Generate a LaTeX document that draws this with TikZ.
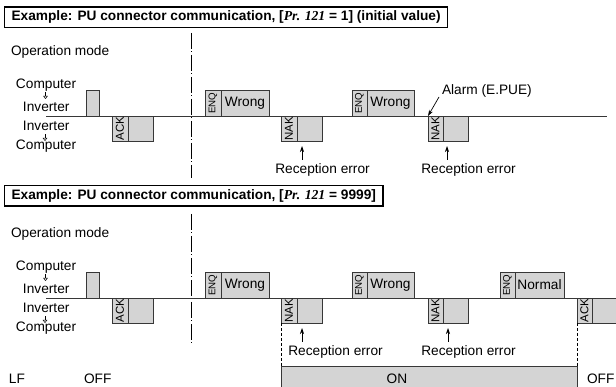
\documentclass[tikz,border=0pt]{standalone}
\usepackage{fontspec}
\setmainfont{Liberation Sans}
\newfontfamily\prfont{Liberation Serif}
\usetikzlibrary{arrows.meta}
\definecolor{blkfill}{RGB}{212,212,212}
\definecolor{edgecol}{RGB}{55,55,55}
\tikzset{
  lbl/.style={font=\fontsize{13.7}{16}\selectfont, inner sep=0pt, outer sep=0pt},
  cell/.style={draw=edgecol, fill=blkfill, line width=0.8pt, anchor=north west, inner sep=0pt, outer sep=0pt, font=\fontsize{13.7}{16}\selectfont},
  tagtxt/.style={font=\fontsize{11.5}{12}\selectfont, rotate=90, inner sep=0pt},
  enqtxt/.style={font=\fontsize{9.7}{11}\selectfont, rotate=90, inner sep=0pt},
  titlebox/.style={draw=black, line width=1.1pt, anchor=north west, inner xsep=7pt, inner ysep=0pt, minimum height=20.5pt, font=\fontsize{13.7}{16}\selectfont\bfseries},
  baseln/.style={draw=edgecol, line width=0.8pt},
  dashdot/.style={draw=black, line width=0.8pt, dash pattern=on 16pt off 2.5pt on 1pt off 2.5pt},
  vdash/.style={draw=black, line width=0.7pt, dash pattern=on 3pt off 2pt},
  uparrow/.style={draw=black, line width=0.7pt, -{Stealth[length=6pt,width=4pt]}},
  hollow/.style={draw=black, line width=0.5pt, -{Triangle[open,length=3pt,width=4.5pt]}},
}
\begin{document}
\begin{tikzpicture}[x=1pt,y=-1pt]
\clip (0,0) rectangle (616,387);
\useasboundingbox (0,0) rectangle (616,387);
\fill[white] (0,0) rectangle (616,387);

% ================= TOP SECTION =================
\node[titlebox] (title1) at (4,6.5) {Example: PU connector communication, [{\prfont\bfseries\itshape Pr. 121} = 1] (initial value)};

\node[lbl, anchor=west] (om1) at (11,52) {Operation mode};
\node[lbl, anchor=west] (cA1) at (16,85.5) {Computer};
\node[lbl, anchor=west] (iA1) at (23,107) {Inverter};
\node[lbl, anchor=west] (iB1) at (23,125.5) {Inverter};
\node[lbl, anchor=west] (cB1) at (16,146.5) {Computer};
\coordinate (ha1) at (45.5,92.5); \coordinate (hb1) at (45.5,99);
\draw[hollow] (ha1) -- (hb1);
\coordinate (ha2) at (45,134.5); \coordinate (hb2) at (45,141);
\draw[hollow] (ha2) -- (hb2);

\coordinate (ddA1) at (191,33); \coordinate (ddB1) at (191,178);
\draw[dashdot] (ddA1) -- (ddB1);

\coordinate (bl1s) at (46,116); \coordinate (bl1e) at (607,116);
\draw[baseln] (bl1s) -- (bl1e);

\node[cell, minimum width=13pt, minimum height=26pt] (c1) at (86,90) {};
\node[cell, minimum width=16pt, minimum height=25pt] (ack1t) at (112,116) {};
\node[cell, minimum width=25pt, minimum height=25pt] (ack1b) at (ack1t.north east) {};
\node[tagtxt] (ack1l) at (ack1t.center) {ACK};

\node[cell, minimum width=16pt, minimum height=26pt] (enq1t) at (205,90) {};
\node[cell, minimum width=48pt, minimum height=26pt] (enq1b) at (enq1t.north east) {Wrong};
\node[enqtxt] (enq1l) at (enq1t.center) {ENQ};

\node[cell, minimum width=16pt, minimum height=25pt] (nak1t) at (281,116) {};
\node[cell, minimum width=25pt, minimum height=25pt] (nak1b) at (nak1t.north east) {};
\node[tagtxt] (nak1l) at (nak1t.center) {NAK};

\node[cell, minimum width=15pt, minimum height=26pt] (enq2t) at (352,90) {};
\node[cell, minimum width=47pt, minimum height=26pt] (enq2b) at (enq2t.north east) {Wrong};
\node[enqtxt] (enq2l) at (enq2t.center) {ENQ};

\node[cell, minimum width=15pt, minimum height=25pt] (nak2t) at (428,116) {};
\node[cell, minimum width=25pt, minimum height=25pt] (nak2b) at (nak2t.north east) {};
\node[tagtxt] (nak2l) at (nak2t.center) {NAK};

\node[lbl, anchor=west] (alarm) at (442,90.5) {Alarm (E.PUE)};
\coordinate (alarmS) at (439,97);
\draw[uparrow] (alarmS) -- (nak2t.north west);

\node[lbl] (re1) at (322.5,170) {Reception error};
\coordinate (re1a) at (302,160); \coordinate (re1b) at (302,146);
\draw[uparrow] (re1a) -- (re1b);
\node[lbl] (re2) at (468.5,170) {Reception error};
\coordinate (re2a) at (447,160); \coordinate (re2b) at (447,146);
\draw[uparrow] (re2a) -- (re2b);

% ================= BOTTOM SECTION =================
\node[titlebox] (title2) at (4,185) {Example: PU connector communication, [{\prfont\bfseries\itshape Pr. 121} = 9999]};

\node[lbl, anchor=west] (om2) at (11,234) {Operation mode};
\node[lbl, anchor=west] (cA2) at (16,267.5) {Computer};
\node[lbl, anchor=west] (iA2) at (23,289) {Inverter};
\node[lbl, anchor=west] (iB2) at (23,307.5) {Inverter};
\node[lbl, anchor=west] (cB2) at (16,328.5) {Computer};
\coordinate (ha3) at (45.5,274.5); \coordinate (hb3) at (45.5,281);
\draw[hollow] (ha3) -- (hb3);
\coordinate (ha4) at (45,316.5); \coordinate (hb4) at (45,323);
\draw[hollow] (ha4) -- (hb4);

\coordinate (ddA2) at (191,214); \coordinate (ddB2) at (191,346);
\draw[dashdot] (ddA2) -- (ddB2);

\coordinate (bl2s) at (46,298); \coordinate (bl2e) at (616,298);
\draw[baseln] (bl2s) -- (bl2e);

\node[cell, minimum width=13pt, minimum height=26pt] (c2) at (86,272) {};
\node[cell, minimum width=16pt, minimum height=25pt] (ack2t) at (112,298) {};
\node[cell, minimum width=25pt, minimum height=25pt] (ack2b) at (ack2t.north east) {};
\node[tagtxt] (ack2l) at (ack2t.center) {ACK};

\node[cell, minimum width=16pt, minimum height=26pt] (enq3t) at (205,272) {};
\node[cell, minimum width=48pt, minimum height=26pt] (enq3b) at (enq3t.north east) {Wrong};
\node[enqtxt] (enq3l) at (enq3t.center) {ENQ};

\node[cell, minimum width=16pt, minimum height=25pt] (nak3t) at (281,298) {};
\node[cell, minimum width=25pt, minimum height=25pt] (nak3b) at (nak3t.north east) {};
\node[tagtxt] (nak3l) at (nak3t.center) {NAK};

\node[cell, minimum width=15pt, minimum height=26pt] (enq4t) at (352,272) {};
\node[cell, minimum width=47pt, minimum height=26pt] (enq4b) at (enq4t.north east) {Wrong};
\node[enqtxt] (enq4l) at (enq4t.center) {ENQ};

\node[cell, minimum width=15pt, minimum height=25pt] (nak4t) at (428,298) {};
\node[cell, minimum width=25pt, minimum height=25pt] (nak4b) at (nak4t.north east) {};
\node[tagtxt] (nak4l) at (nak4t.center) {NAK};

\node[cell, minimum width=15pt, minimum height=26pt] (enq5t) at (500,272) {};
\node[cell, minimum width=49pt, minimum height=26pt] (enq5b) at (enq5t.north east) {Normal};
\node[enqtxt] (enq5l) at (enq5t.center) {ENQ};

\node[cell, minimum width=15pt, minimum height=25pt] (ack3t) at (577,298) {};
\node[cell, minimum width=30pt, minimum height=25pt] (ack3b) at (ack3t.north east) {};
\node[tagtxt] (ack3l) at (ack3t.center) {ACK};

\node[lbl] (re3) at (335.5,352) {Reception error};
\coordinate (re3a) at (302,342); \coordinate (re3b) at (302,328);
\draw[uparrow] (re3a) -- (re3b);
\node[lbl] (re4) at (468.5,352) {Reception error};
\coordinate (re4a) at (448,342); \coordinate (re4b) at (448,328);
\draw[uparrow] (re4a) -- (re4b);

% LF row
\node[cell, minimum width=296pt, minimum height=25pt] (onbox) at (281,366.5) {};
\node[lbl] (ontxt) at (397,378.5) {ON};
\draw[vdash] (nak3t.south west) -- (onbox.north west);
\draw[vdash] (ack3t.south west) -- (onbox.north east);
\node[lbl, anchor=west] (lf) at (9,378.5) {LF};
\node[lbl, anchor=west] (off1) at (84,378.5) {OFF};
\node[lbl, anchor=west] (off2) at (587,378.5) {OFF};
\end{tikzpicture}
\end{document}
